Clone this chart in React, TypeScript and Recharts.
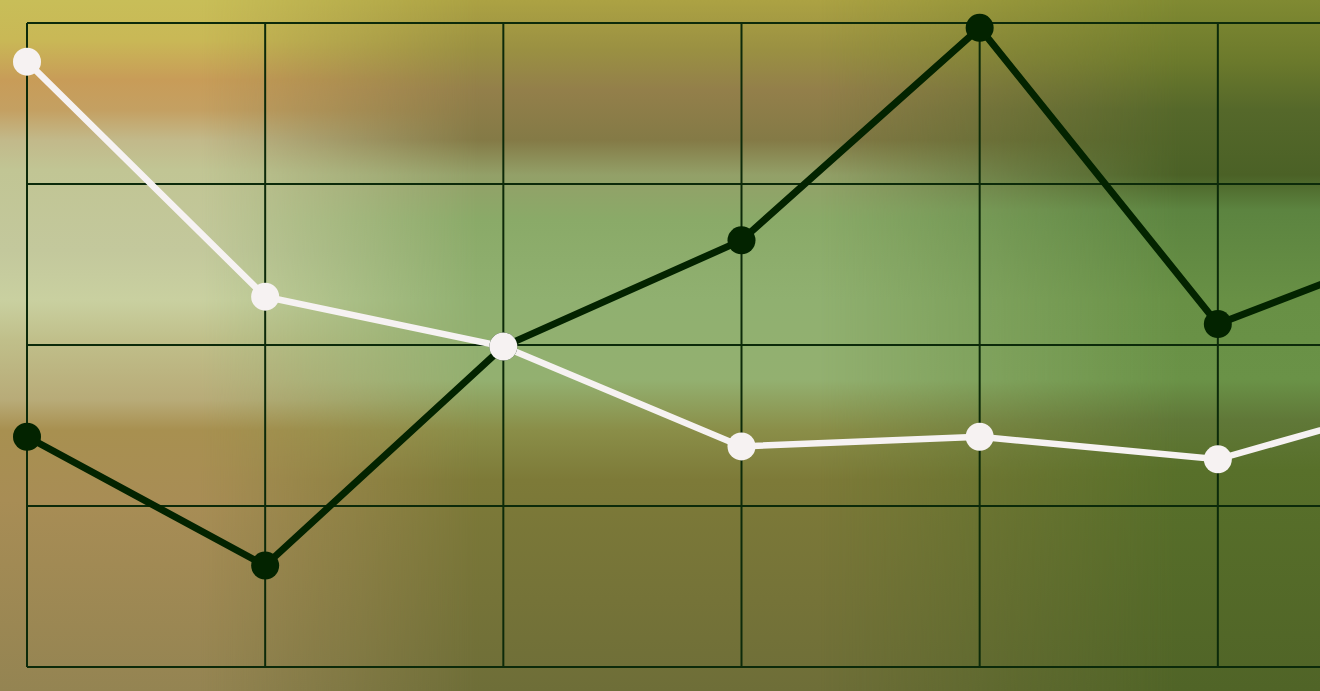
import React from 'react'
import { LineChart, Line, XAxis, YAxis, CartesianGrid } from 'recharts'

const categories = ['P1', 'P2', 'P3', 'P4', 'P5', 'P6', 'P7']
const darkSeries = [143, 63, 199, 265, 397, 213, 270]
const lightSeries = [376, 230, 199, 137, 143, 129, 171]
const yTicks = [0, 100, 200, 300, 400]

const data = categories.map((name, i) => ({ name, dark: darkSeries[i], light: lightSeries[i] }))

const layer = (bg: string, mask: string): React.CSSProperties => ({
  position: 'absolute',
  inset: 0,
  background: bg,
  WebkitMaskImage: mask,
  maskImage: mask,
})

const leftCol =
  'linear-gradient(to bottom, #c8be58 0px, #c9b856 40px, #c89c58 80px, #c4a062 110px, #c2b98a 140px, #c1c594 170px, #c3c89c 250px, #c9d0a0 300px, #c0bf8a 340px, #b8ab78 400px, #a89050 430px, #a88d55 500px, #948452 691px)'
const midCol =
  'linear-gradient(to bottom, #aca243 0px, #9a9042 50px, #937f4a 90px, #847a46 140px, #93a068 175px, #8aaa68 220px, #90b070 300px, #93b070 380px, #8a8e48 430px, #7d7a38 480px, #757338 600px, #6e6e38 691px)'
const rightCol =
  'linear-gradient(to bottom, #808a32 0px, #6c7a2c 60px, #55682a 110px, #4b6126 175px, #5c8440 210px, #689045 300px, #6a9247 380px, #607838 420px, #58702a 470px, #506427 691px)'

export default function App() {
  return (
    <div
      style={{
        position: 'fixed',
        left: 0,
        top: 0,
        width: 1320,
        height: 691,
        overflow: 'hidden',
        background: midCol,
      }}
    >
      <div style={layer(leftCol, 'linear-gradient(to right, #000 0px, #000 200px, transparent 480px)')} />
      <div style={layer(rightCol, 'linear-gradient(to right, transparent 820px, #000 1180px, #000 1320px)')} />
      <div style={{ position: 'absolute', left: 0, top: 0 }}>
        <LineChart
          width={1500}
          height={691}
          data={data}
          margin={{ top: 23, right: 44, left: 27, bottom: 24 }}
        >
          <CartesianGrid stroke="#0c2a0a" strokeWidth={2} />
          <XAxis dataKey="name" hide />
          <YAxis hide domain={[0, 400]} ticks={yTicks} />
          <Line
            dataKey="dark"
            stroke="#032300"
            strokeWidth={7}
            dot={{ r: 14, fill: '#032300', stroke: 'none' }}
            activeDot={false}
            isAnimationActive={false}
          />
          <Line
            dataKey="light"
            stroke="#f6f2f2"
            strokeWidth={6.5}
            dot={{ r: 14, fill: '#f6f2f2', stroke: 'none' }}
            activeDot={false}
            isAnimationActive={false}
          />
        </LineChart>
      </div>
    </div>
  )
}
